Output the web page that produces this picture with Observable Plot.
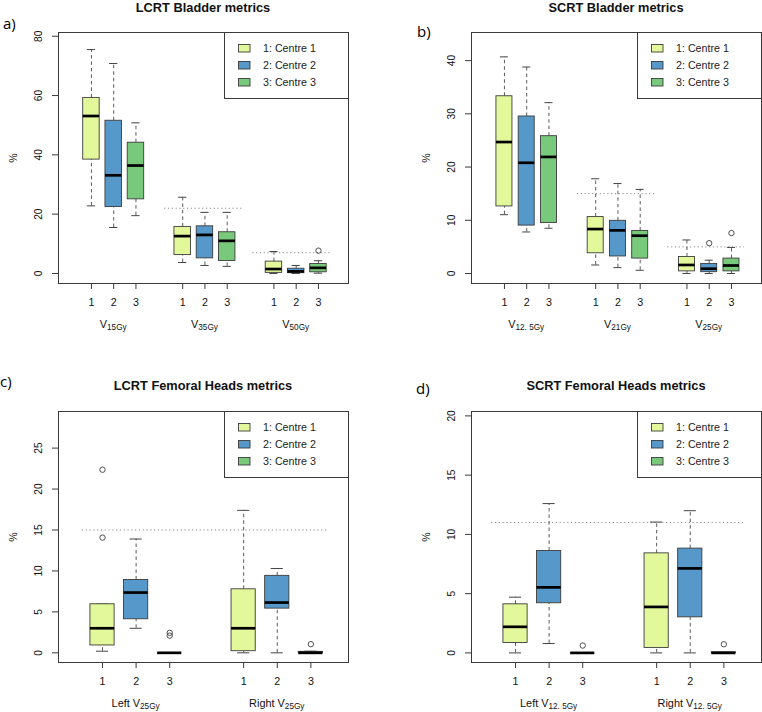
<!DOCTYPE html>
<html><head><meta charset="utf-8">
<script src="https://cdn.jsdelivr.net/npm/d3@7"></script>
<script src="https://cdn.jsdelivr.net/npm/@observablehq/plot@0.6"></script>
<style>
body{margin:0;background:#fff;}
#root{position:relative;width:762px;height:712px;overflow:hidden;background:#fff;font-family:"Liberation Sans",Arial,sans-serif;}
.pan{position:absolute;}
</style></head><body><div id="root"></div>
<script>
// ---------- shared ----------
const centres = ["1: Centre 1", "2: Centre 2", "3: Centre 3"];
const centreTicks = ["1", "2", "3"];
const centreColors = ["#e3f89a", "#5698ca", "#78c97b"];

// ---------- a) LCRT bladder ----------
const aTitle = "LCRT Bladder metrics";
const aGroupPrefix = ["V", "V", "V"];
const aGroupSub = ["15Gy", "35Gy", "50Gy"];
const aLow    = [22.8, 15.5, 19.5, 3.7, 2.7, 2.4, 0, 0, 0.1];
const aQ1     = [38.4, 22.4, 25.0, 6.2, 5.1, 4.2, 0.2, 0.1, 0.4];
const aMedian = [53.1, 33.1, 36.4, 12.6, 13.0, 11.0, 1.5, 0.7, 1.9];
const aQ3     = [59.2, 51.5, 44.1, 15.7, 15.9, 13.9, 4.0, 1.6, 3.2];
const aHigh   = [75.5, 70.8, 50.8, 25.7, 20.6, 20.6, 7.4, 2.7, 4.3];
const aOutliers = [[], [], [], [], [], [], [], [], [7.7]];
const aLimitY  = [22, 7];
const aLimitX1 = [4.29, 8.25];
const aLimitX2 = [7.85, 11.82];
const aYTicks = [0, 20, 40, 60, 80];

// ---------- b) SCRT bladder ----------
const bTitle = "SCRT Bladder metrics";
const bGroupPrefix = ["V", "V", "V"];
const bGroupSub = ["12. 5Gy", "21Gy", "25Gy"];
const bLow    = [11.05, 7.8, 8.5, 1.6, 1.1, 0.6, 0, 0, 0];
const bQ1     = [12.6, 9.0, 9.5, 3.8, 3.2, 2.8, 0.4, 0.25, 0.4];
const bMedian = [24.7, 20.8, 21.9, 8.35, 8.1, 7.1, 1.6, 0.9, 1.5];
const bQ3     = [33.3, 29.5, 25.8, 10.6, 9.9, 8.0, 3.1, 1.8, 2.8];
const bHigh   = [40.7, 38.8, 32.1, 17.8, 16.9, 15.8, 6.3, 2.5, 4.9];
const bOutliers = [[], [], [], [], [], [], [], [5.7], [7.6]];
const bLimitY  = [15, 5];
const bLimitX1 = [4.28, 8.34];
const bLimitX2 = [7.77, 11.79];
const bYTicks = [0, 10, 20, 30, 40];

// ---------- c) LCRT femoral heads ----------
const cTitle = "LCRT Femoral Heads metrics";
const cGroupPrefix = ["Left V", "Right V"];
const cGroupSub = ["25Gy", "25Gy"];
const cLow    = [0.2, 3.0, 0, 0, 0, 0];
const cQ1     = [0.9, 4.1, 0, 0.2, 5.4, 0];
const cMedian = [3.0, 7.36, 0, 3.0, 6.14, 0];
const cQ3     = [5.93, 8.9, 0, 7.76, 9.4, 0.12];
const cHigh   = [5.95, 13.9, 0, 17.4, 10.3, 0.2];
const cOutliers = [[22.36, 14.07], [], [2.44, 2.1], [], [], [1.06]];
const cLimitY  = [15];
const cLimitX1 = [0.40];
const cLimitX2 = [7.73];
const cYTicks = [0, 5, 10, 15, 20, 25];

// ---------- d) SCRT femoral heads ----------
const dTitle = "SCRT Femoral Heads metrics";
const dGroupPrefix = ["Left V", "Right V"];
const dGroupSub = ["12. 5Gy", "12. 5Gy"];
const dLow    = [0, 0.79, 0, 0, 0, 0];
const dQ1     = [0.84, 4.19, 0, 0.42, 3.0, 0];
const dMedian = [2.2, 5.53, 0, 3.88, 7.13, 0];
const dQ3     = [4.1, 8.6, 0, 8.4, 8.8, 0.05];
const dHigh   = [4.7, 12.6, 0, 11.04, 12.0, 0.05];
const dOutliers = [[], [], [0.62], [], [], [0.73]];
const dLimitY  = [11];
const dLimitX1 = [0.29];
const dLimitX2 = [7.78];
const dYTicks = [0, 5, 10, 15, 20];

// ---------- drawing ----------
const root = d3.select("#root");
const FONT = "Liberation Sans, Arial, Helvetica, sans-serif";
const panels = [];

function panel(cfg) {
  const rows = cfg.low.map((_, i) => {
    const g = Math.floor(i / 3), c = i % 3;
    return {pos: 1 + c + g * cfg.groupStep, centre: centres[c], g,
      low: cfg.low[i], q1: cfg.q1[i], median: cfg.median[i], q3: cfg.q3[i], high: cfg.high[i]};
  });
  const outs = rows.flatMap((r, i) => cfg.outliers[i].map(v => ({pos: r.pos, v})));
  const limits = cfg.limitY.map((y, i) => ({y, x1: cfg.limitX1[i], x2: cfg.limitX2[i]}));
  const bw = cfg.boxWidth;
  const plot = Plot.plot({
    width: cfg.width, height: cfg.height,
    marginLeft: cfg.ml, marginRight: cfg.mr, marginTop: cfg.mt, marginBottom: cfg.mb,
    x: {domain: cfg.xDomain},
    y: {domain: cfg.yDomain},
    color: {domain: centres, range: centreColors},
    style: {fontSize: "10.7px", fontFamily: FONT, background: "white", color: "#111", overflow: "visible"},
    marks: [
      Plot.ruleY(limits, {y: "y", x1: "x1", x2: "x2", stroke: "#8a8a8a", strokeDasharray: "1.2,2.6", strokeWidth: 1}),
      Plot.ruleX(rows, {x: "pos", y1: "q3", y2: "high", stroke: "#5a5a5a", strokeDasharray: "3.5,3", strokeWidth: 1}),
      Plot.ruleX(rows, {x: "pos", y1: "low", y2: "q1", stroke: "#5a5a5a", strokeDasharray: "3.5,3", strokeWidth: 1}),
      Plot.ruleY(rows, {y: "high", x1: d => d.pos - bw / 4, x2: d => d.pos + bw / 4, stroke: "#444", strokeWidth: 1}),
      Plot.ruleY(rows, {y: "low", x1: d => d.pos - bw / 4, x2: d => d.pos + bw / 4, stroke: "#444", strokeWidth: 1}),
      Plot.rect(rows, {x1: d => d.pos - bw / 2, x2: d => d.pos + bw / 2, y1: "q1", y2: "q3", fill: "centre", stroke: "#3c3c3c", strokeWidth: 0.9}),
      Plot.ruleY(rows, {y: "median", x1: d => d.pos - bw / 2, x2: d => d.pos + bw / 2, stroke: "#000", strokeWidth: 2.7}),
      Plot.dot(outs, {x: "pos", y: "v", r: 2.7, stroke: "#3c3c3c", fill: "none", strokeWidth: 0.9}),
      Plot.frame({stroke: "#3a3a3a", strokeWidth: 1}),
      Plot.axisY({ticks: cfg.yTicks, tickSize: 6, tickFormat: () => "", label: null, stroke: "#3a3a3a"}),
      Plot.text(cfg.yTicks, {y: d => d, text: d => String(d), frameAnchor: "left", dx: -20, rotate: -90,
        textAnchor: "middle", lineAnchor: "middle", fontSize: 10.2}),
      Plot.axisX({ticks: rows.map(d => d.pos), tickFormat: (d, i) => centreTicks[i % 3], tickSize: 6, tickPadding: 9, label: null, stroke: "#3a3a3a"}),
      Plot.text(["%"], {text: d => d, frameAnchor: "left", dx: -45, rotate: -90, textAnchor: "middle", lineAnchor: "middle"})
    ]
  });
  const div = root.append("div").attr("class", "pan").style("left", cfg.left + "px").style("top", cfg.top + "px");
  div.node().appendChild(plot);
  panels.push({cfg, plot, rows});
}

const bladderX = [-0.48, 12.55], femoralX = [-0.31, 8.32];
panel({left: 0, top: 0, width: 381, height: 345, ml: 58, mr: 33, mt: 32, mb: 62, xDomain: bladderX, yDomain: [-3.38, 81.26],
  groupStep: 4.1, boxWidth: 0.74, low: aLow, q1: aQ1, median: aMedian, q3: aQ3, high: aHigh, outliers: aOutliers,
  limitY: aLimitY, limitX1: aLimitX1, limitX2: aLimitX2, yTicks: aYTicks, prefix: aGroupPrefix, sub: aGroupSub,
  title: aTitle, letter: "a)", letterX: 3, letterY: 29});
panel({left: 381, top: 0, width: 381, height: 345, ml: 90, mr: 1, mt: 32, mb: 62, xDomain: bladderX, yDomain: [-1.88, 45.28],
  groupStep: 4.1, boxWidth: 0.72, low: bLow, q1: bQ1, median: bMedian, q3: bQ3, high: bHigh, outliers: bOutliers,
  limitY: bLimitY, limitX1: bLimitX1, limitX2: bLimitX2, yTicks: bYTicks, prefix: bGroupPrefix, sub: bGroupSub,
  title: bTitle, letter: "b)", letterX: 417, letterY: 37});
panel({left: 0, top: 345, width: 381, height: 367, ml: 58, mr: 33, mt: 66, mb: 50, xDomain: femoralX, yDomain: [-1.18, 29.47],
  groupStep: 4.2, boxWidth: 0.72, low: cLow, q1: cQ1, median: cMedian, q3: cQ3, high: cHigh, outliers: cOutliers,
  limitY: cLimitY, limitX1: cLimitX1, limitX2: cLimitX2, yTicks: cYTicks, prefix: cGroupPrefix, sub: cGroupSub,
  title: cTitle, letter: "c)", letterX: 0, letterY: 387});
panel({left: 381, top: 345, width: 381, height: 367, ml: 90, mr: 1, mt: 66, mb: 50, xDomain: femoralX, yDomain: [-0.81, 20.37],
  groupStep: 4.2, boxWidth: 0.72, low: dLow, q1: dQ1, median: dMedian, q3: dQ3, high: dHigh, outliers: dOutliers,
  limitY: dLimitY, limitX1: dLimitX1, limitX2: dLimitX2, yTicks: dYTicks, prefix: dGroupPrefix, sub: dGroupSub,
  title: dTitle, letter: "d)", letterX: 416, letterY: 394});

// ---------- overlay: titles, letters, group labels, legends ----------
const ov = root.append("svg").attr("width", 762).attr("height", 712)
  .style("position", "absolute").style("left", "0px").style("top", "0px").style("pointer-events", "none");

for (const {cfg, plot, rows} of panels) {
  const xs = plot.scale("x"), ys = plot.scale("y");
  const fx0 = cfg.left + xs.range[0], fx1 = cfg.left + xs.range[1];
  const fy0 = cfg.top + ys.range[1], fy1 = cfg.top + ys.range[0];
  // title
  ov.append("text").attr("x", (fx0 + fx1) / 2).attr("y", cfg.top === 0 ? 12 : 390)
    .attr("text-anchor", "middle").attr("font-family", FONT).attr("font-weight", "bold").attr("font-size", 12.8)
    .attr("fill", "#111").text(cfg.title);
  // panel letter
  ov.append("text").attr("x", cfg.letterX).attr("y", cfg.letterY)
    .attr("font-family", "Open Sans, Noto Sans, sans-serif").attr("font-size", 15).text(cfg.letter);
  // group labels
  cfg.prefix.forEach((p, g) => {
    const mid = rows.filter(r => r.g === g).map(r => r.pos);
    const cx = cfg.left + xs.apply((mid[0] + mid[2]) / 2);
    const t = ov.append("text").attr("x", cx).attr("y", fy1 + 44.5).attr("text-anchor", "middle")
      .attr("font-family", FONT).attr("font-size", 10.9).attr("fill", "#111");
    t.append("tspan").text(p);
    t.append("tspan").attr("font-size", 8.2).attr("dy", 2.5).text(cfg.sub[g]);
  });
  // legend
  const lw = 124, lh = 66, lx = fx1 - lw, ly = fy0;
  ov.append("rect").attr("x", lx + 0.5).attr("y", ly + 0.5).attr("width", lw).attr("height", lh)
    .attr("fill", "white").attr("stroke", "#3a3a3a").attr("stroke-width", 1);
  centres.forEach((c, i) => {
    const cy = ly + 16 + i * 17;
    ov.append("rect").attr("x", lx + 14.5).attr("y", cy - 3.5).attr("width", 11.5).attr("height", 7.5)
      .attr("fill", centreColors[i]).attr("stroke", "#3c3c3c").attr("stroke-width", 0.9);
    ov.append("text").attr("x", lx + 39).attr("y", cy + 3.8).attr("font-family", FONT).attr("font-size", 10.7)
      .attr("fill", "#222").text(c);
  });
}
</script></body></html>
